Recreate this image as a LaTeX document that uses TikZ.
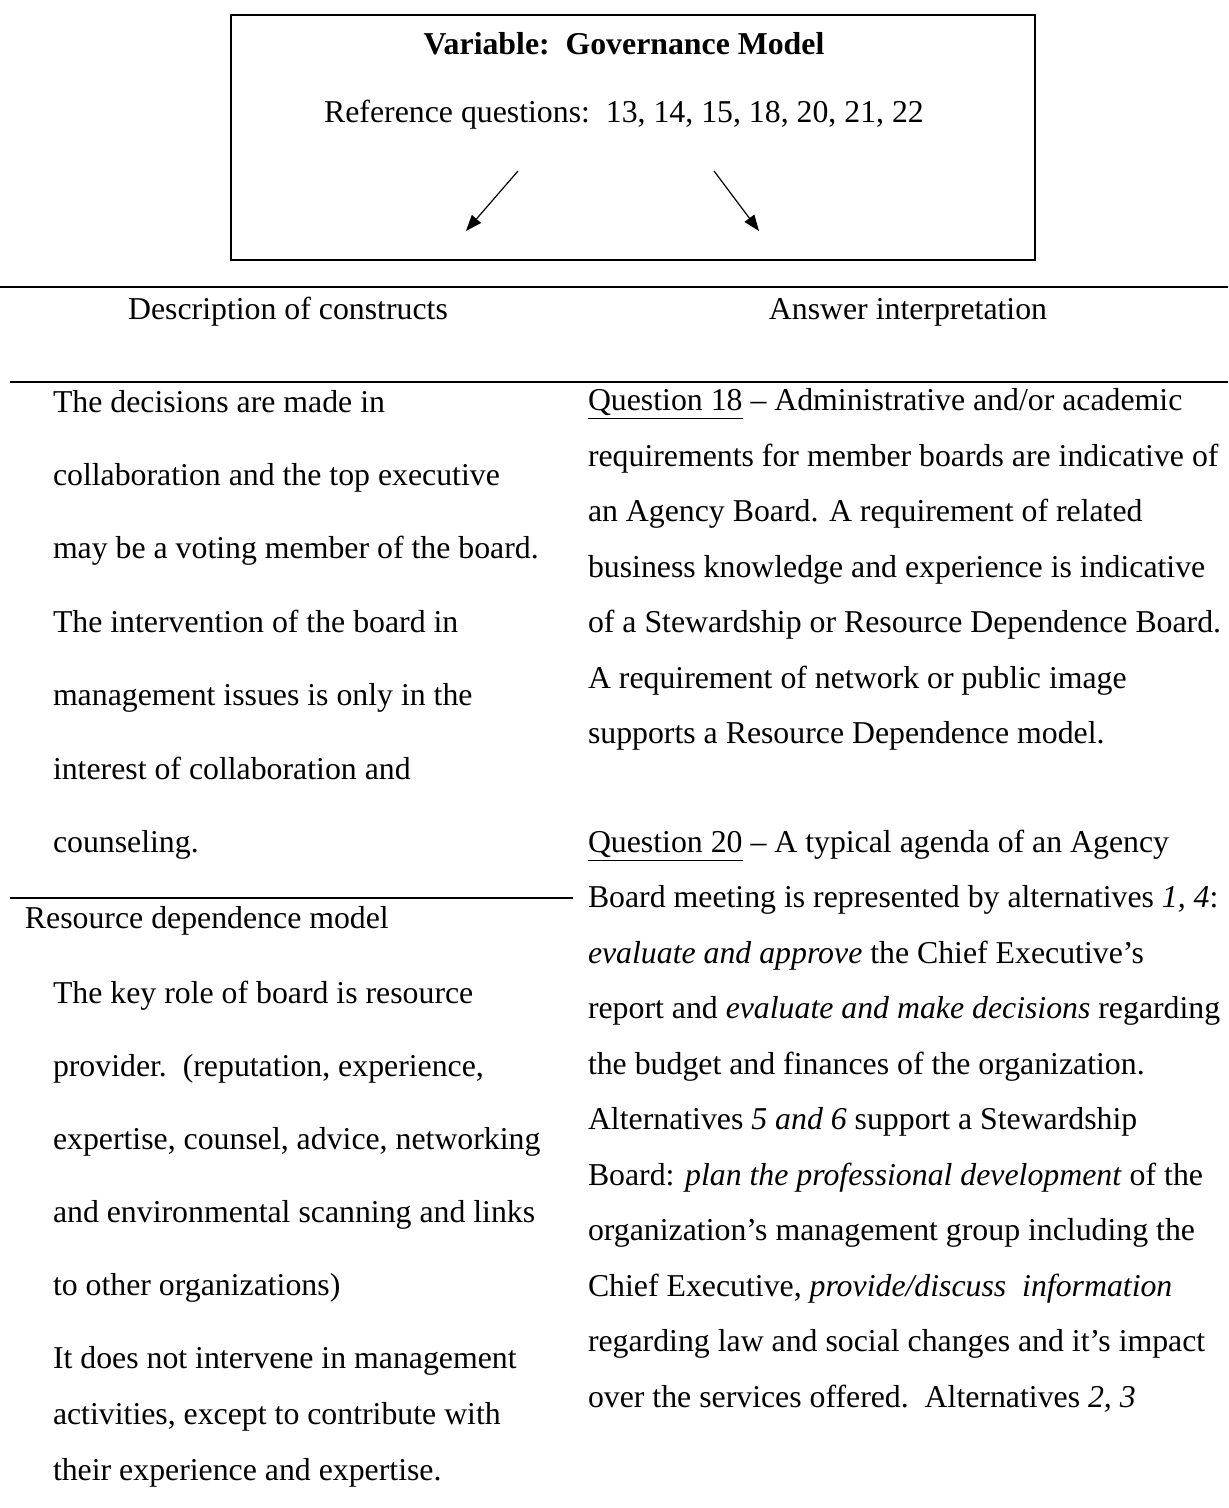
\documentclass[tikz,border=0pt]{standalone}
\usepackage{fontspec}
\setmainfont{Liberation Serif}
\usetikzlibrary{arrows.meta}
\begin{document}
\begin{tikzpicture}[x=0.5pt,y=-0.5pt,
  txt/.style={inner sep=0pt, outer sep=0pt, font=\fontsize{15.9}{19}\selectfont},
  lt/.style={txt, anchor=base west},
  ct/.style={txt, anchor=base},
  rulel/.style={line width=1pt},
  arr/.style={line width=0.6pt, -{Triangle[length=8pt,width=6pt]}}]
\useasboundingbox (0,0) rectangle (1228,1508);

% variable box
\node (frame) [draw, line width=1pt, anchor=north west, inner sep=0pt,
  minimum width=402pt, minimum height=122.5pt] at (230,14) {};
\node[ct, font=\fontsize{15.9}{19}\selectfont\bfseries] (title) at (624,55) {Variable:\ \ Governance Model};
\node[ct] (refq) at (624,123) {Reference questions:\ \ 13, 14, 15, 18, 20, 21, 22};
\coordinate (a1s) at (518,171);
\coordinate (a1e) at (466,231);
\coordinate (a2s) at (714,171);
\coordinate (a2e) at (759,231);
\draw[arr] (a1s) -- (a1e);
\draw[arr] (a2s) -- (a2e);

% table rules
\coordinate (r1a) at (0,287);   \coordinate (r1b) at (1228,287);
\coordinate (r2a) at (10,382);  \coordinate (r2b) at (1228,382);
\coordinate (r3a) at (10,898);  \coordinate (r3b) at (573,898);
\draw[rulel] (r1a) -- (r1b);
\draw[rulel] (r2a) -- (r2b);
\draw[rulel] (r3a) -- (r3b);

% column headings
\node[ct] (h1) at (288,320) {Description of constructs};
\node[ct] (h2) at (908,320) {Answer interpretation};

% left column
\node[lt] (l1) at (53,412) {The decisions are made in};
\node[lt] (l2) at (53,485) {collaboration and the top executive};
\node[lt] (l3) at (53,558) {may be a voting member of the board.};
\node[lt] (l4) at (53,632) {The intervention of the board in};
\node[lt] (l5) at (53,705) {management issues is only in the};
\node[lt] (l6) at (53,779) {interest of collaboration and};
\node[lt] (l7) at (53,852) {counseling.};
\node[lt] (rdm) at (25,928) {Resource dependence model};
\node[lt] (m1) at (53,1003) {The key role of board is resource};
\node[lt] (m2) at (53,1076) {provider.\ \ (reputation, experience,};
\node[lt] (m3) at (53,1149) {expertise, counsel, advice, networking};
\node[lt] (m4) at (53,1222) {and environmental scanning and links};
\node[lt] (m5) at (53,1295) {to other organizations)};
\node[lt] (n1) at (53,1368) {It does not intervene in management};
\node[lt] (n2) at (53,1424) {activities, except to contribute with};
\node[lt] (n3) at (53,1480) {their experience and expertise.};

% right column
\node[lt] (q1) at (588,410) {\underline{Question 18} – Administrative and/or academic};
\node[lt] (q2) at (588,466) {requirements for member boards are indicative of};
\node[lt] (q3) at (588,521) {an Agency Board. A requirement of related};
\node[lt] (q4) at (588,577) {business knowledge and experience is indicative};
\node[lt] (q5) at (588,632) {of a Stewardship or Resource Dependence Board.};
\node[lt] (q6) at (588,688) {A requirement of network or public image};
\node[lt] (q7) at (588,743) {supports a Resource Dependence model.};
\node[lt] (p1) at (588,852) {\underline{Question 20} – A typical agenda of an Agency};
\node[lt] (p2) at (588,907) {Board meeting is represented by alternatives \textit{1, 4}:};
\node[lt] (p3) at (588,963) {\textit{evaluate and approve} the Chief Executive’s};
\node[lt] (p4) at (588,1018) {report and \textit{evaluate and make decisions} regarding};
\node[lt] (p5) at (588,1074) {the budget and finances of the organization.};
\node[lt] (p6) at (588,1129) {Alternatives \textit{5 and 6} support a Stewardship};
\node[lt] (p7) at (588,1185) {Board: \textit{plan the professional development} of the};
\node[lt] (p8) at (588,1240) {organization’s management group including the};
\node[lt] (p9) at (588,1296) {Chief Executive, \textit{provide/discuss\ \ information}};
\node[lt] (p10) at (588,1351) {regarding law and social changes and it’s impact};
\node[lt] (p11) at (588,1407) {over the services offered.\ \ Alternatives \textit{2, 3}};
\end{tikzpicture}
\end{document}
